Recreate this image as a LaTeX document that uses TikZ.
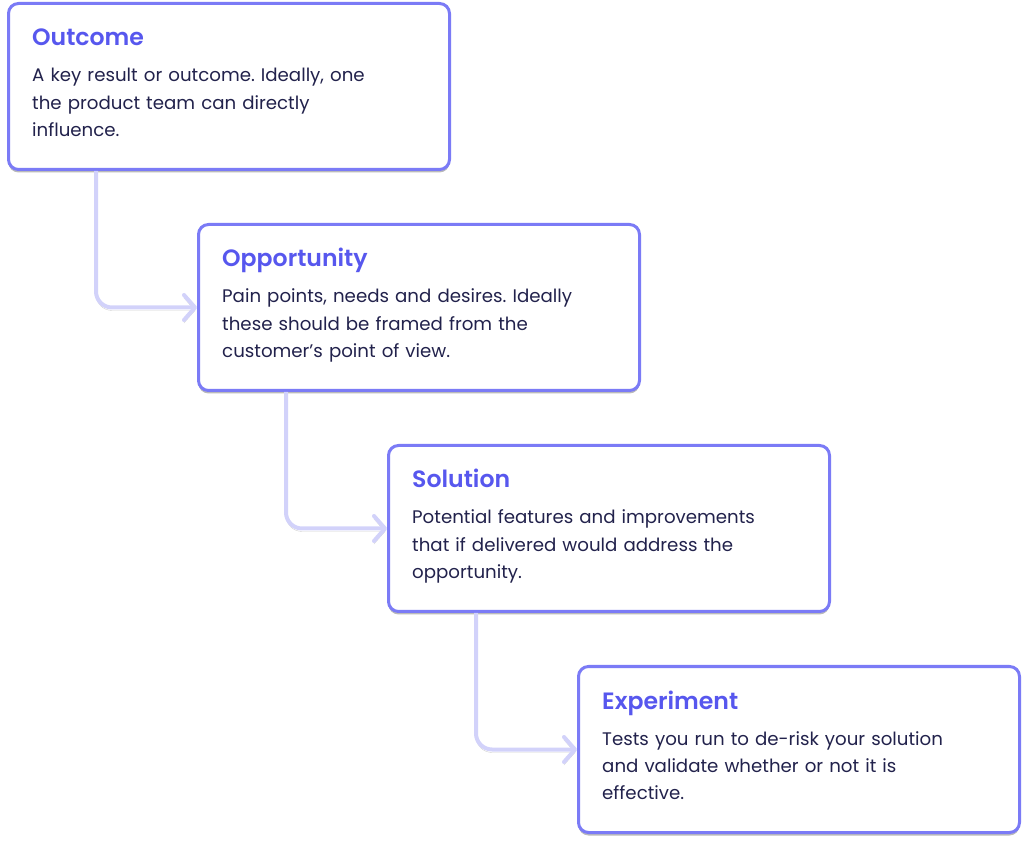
\documentclass[tikz,border=0pt]{standalone}
\usepackage{fontspec}
\setmainfont{Poppins}[BoldFont={* SemiBold}]
\frenchspacing
\usetikzlibrary{arrows.meta,calc,shadows}

\definecolor{boxline}{HTML}{7B7BF6}
\definecolor{headblue}{HTML}{5757EE}
\definecolor{bodyink}{HTML}{22224C}
\definecolor{linkpurple}{HTML}{D2D2FA}

\begin{document}
\begin{tikzpicture}[x=1pt,y=1pt,
	box/.style={draw=boxline, line width=3pt, rounded corners=10pt, fill=white,
		minimum width=441pt, minimum height=166pt, anchor=north west,
		drop shadow={shadow xshift=0pt, shadow yshift=-3pt, opacity=.45, fill=black!60}},
	head/.style={anchor=base west, inner sep=0pt, text=headblue,
		font=\bfseries\fontsize{23.6}{28}\selectfont},
	body/.style={anchor=base west, inner sep=0pt, text=bodyink, align=left,
		text width=420pt, font=\fontsize{18.2}{27.3}\selectfont},
	link/.style={draw=linkpurple, line width=4pt, rounded corners=16pt,
		-{Straight Barb[length=11pt,width=25pt,round]},
		preaction={draw=black, draw opacity=.18, transform canvas={yshift=-3pt}}}]
	\useasboundingbox (0,0) rectangle (1024,843);

	\node[box] (b1) at (7,  841) {};
	\node[box] (b2) at (197, 620) {};
	\node[box] (b3) at (387, 399) {};
	\node[box] (b4) at (577, 178) {};

	\foreach \u\v in {b1/b2, b2/b3, b3/b4}
	{	\draw[link] ([xshift=89pt]\u.south west) |- (\v.west);
	}

	\node[head] (h1) at ($(b1.north west)+(25,-44)$) {Outcome};
	\node[body] (t1) at ($(b1.north west)+(25,-80)$)
		{A key result or outcome. Ideally, one\\the product team can directly\\influence.};

	\node[head] (h2) at ($(b2.north west)+(25,-44)$) {Opportunity};
	\node[body] (t2) at ($(b2.north west)+(25,-80)$)
		{Pain points, needs and desires. Ideally\\these should be framed from the\\customer’s point of view.};

	\node[head] (h3) at ($(b3.north west)+(25,-44)$) {Solution};
	\node[body] (t3) at ($(b3.north west)+(25,-80)$)
		{Potential features and improvements\\that if delivered would address the\\opportunity.};

	\node[head] (h4) at ($(b4.north west)+(25,-44)$) {Experiment};
	\node[body] (t4) at ($(b4.north west)+(25,-80)$)
		{Tests you run to de-risk your solution\\and validate whether or not it is\\effective.};
\end{tikzpicture}
\end{document}
